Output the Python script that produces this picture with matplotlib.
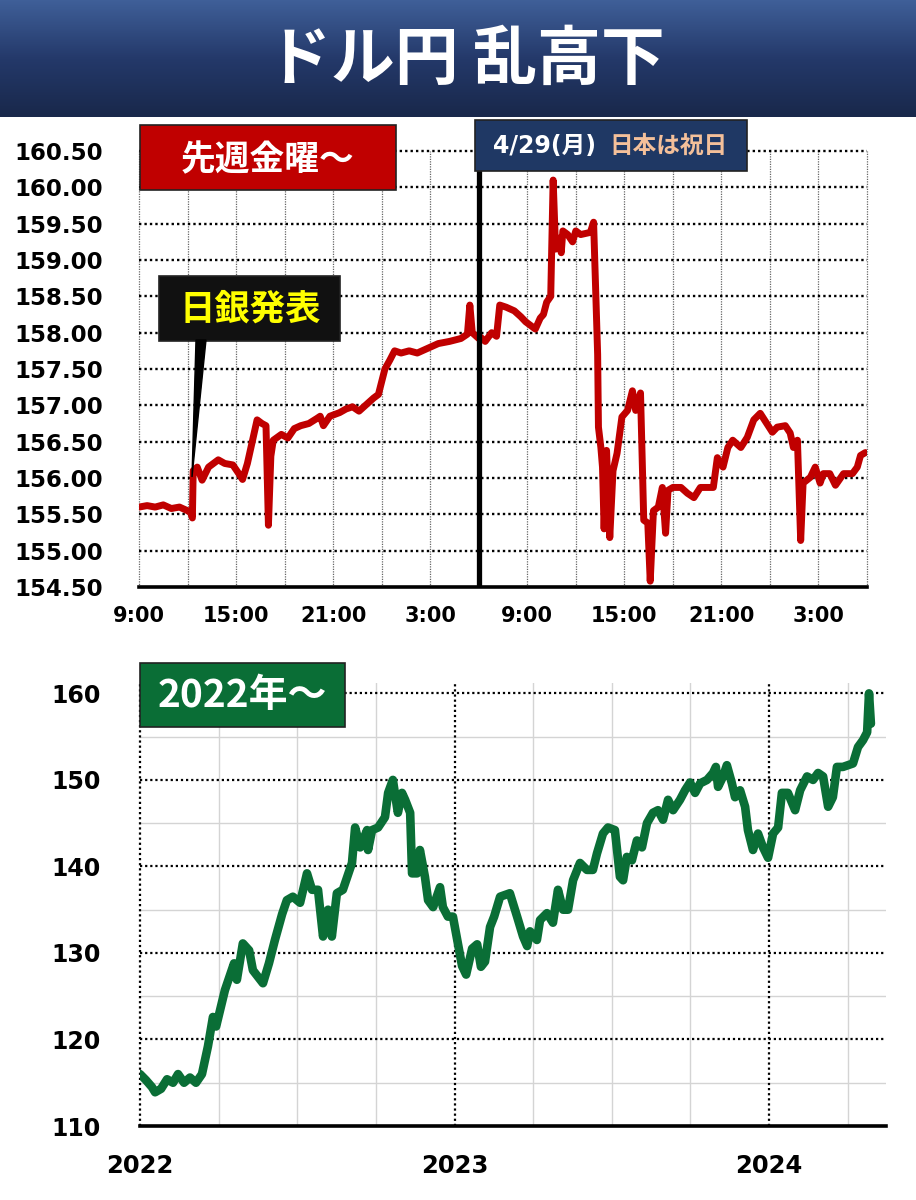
import numpy as np
import matplotlib.pyplot as plt
from matplotlib.patches import Rectangle, Polygon
from matplotlib.colors import LinearSegmentedColormap

plt.rcParams['font.family'] = ['DejaVu Sans', 'Noto Sans CJK JP']

W, H = 916, 1200

# --- last week: hours from Fri 9:00, weekend cut out at 21h (Sat 6:00 -> Mon 6:00)
week_hours = [
    0.0, 0.5, 1.0, 1.5, 2.0, 2.5, 3.0, 3.2, 3.3, 3.35,
    3.6, 3.9, 4.3, 4.9, 5.3, 5.8, 6.2, 6.4, 6.7, 7.0,
    7.3, 7.6, 7.85, 8.0, 8.15, 8.3, 8.8, 9.2, 9.6, 10.0,
    10.5, 11.0, 11.2, 11.4, 11.8, 12.4, 12.8, 13.2, 13.6, 14.0,
    14.5, 14.8, 15.2, 15.5, 15.8, 16.2, 16.7, 17.2, 17.8, 18.5,
    19.2, 19.9, 20.3, 20.45, 20.6, 21.0, 21.1, 21.4, 21.8, 22.1,
    22.3, 22.7, 23.2, 23.6, 23.9, 24.2, 24.5, 24.8, 25.0, 25.2,
    25.45, 25.6, 25.75, 25.95, 26.1, 26.2, 26.5, 26.8, 27.0, 27.3,
    27.9, 28.1, 28.35, 28.4, 28.55, 28.65, 28.75, 28.9, 29.1, 29.3,
    29.55, 29.85, 30.2, 30.5, 30.7, 31.0, 31.2, 31.45, 31.6, 31.8,
    32.1, 32.35, 32.55, 32.7, 33.0, 33.5, 33.9, 34.3, 34.7, 35.1,
    35.5, 35.75, 36.1, 36.4, 36.7, 37.2, 37.6, 38.0, 38.4, 38.8,
    39.15, 39.45, 39.95, 40.25, 40.45, 40.7, 40.9, 41.05, 41.5, 41.8,
    42.1, 42.3, 42.7, 43.05, 43.55, 44.1, 44.4, 44.6, 44.9,
]
week_usdjpy = [
    155.60, 155.62, 155.60, 155.63, 155.58, 155.60, 155.55, 155.52, 155.45, 156.10,
    156.15, 155.97, 156.15, 156.25, 156.20, 156.18, 156.05, 155.98, 156.20, 156.50,
    156.80, 156.75, 156.72, 155.35, 156.30, 156.52, 156.60, 156.55, 156.68, 156.72,
    156.75, 156.82, 156.85, 156.72, 156.85, 156.90, 156.95, 156.98, 156.92, 157.00,
    157.10, 157.15, 157.50, 157.62, 157.75, 157.72, 157.75, 157.72, 157.78, 157.85,
    157.88, 157.92, 157.98, 158.38, 158.00, 157.92, 157.94, 157.88, 158.00, 157.95,
    158.38, 158.35, 158.30, 158.22, 158.15, 158.10, 158.05, 158.20, 158.25, 158.42,
    158.50, 160.10, 159.15, 159.30, 159.10, 159.40, 159.35, 159.25, 159.40, 159.35,
    159.38, 159.52, 157.70, 156.70, 156.42, 156.15, 155.30, 156.38, 155.18, 156.10,
    156.34, 156.84, 156.93, 157.20, 156.93, 157.17, 155.42, 155.38, 154.58, 155.55,
    155.60, 155.87, 155.24, 155.83, 155.87, 155.87, 155.79, 155.73, 155.87, 155.87,
    155.87, 156.28, 156.15, 156.42, 156.52, 156.42, 156.56, 156.80, 156.89, 156.75,
    156.63, 156.70, 156.72, 156.62, 156.42, 156.52, 155.14, 155.93, 156.01, 156.15,
    155.93, 156.06, 156.06, 155.90, 156.06, 156.06, 156.15, 156.31, 156.35,
]
week_ticks = [0, 6, 12, 18, 24, 30, 36, 42]
week_labels = ['9:00', '15:00', '21:00', '3:00', '9:00', '15:00', '21:00', '3:00']
week_grid_x = [0, 3, 6, 9, 12, 15, 18, 21, 24, 27, 30, 33, 36, 39, 42, 45]
week_yticks = [154.5, 155.0, 155.5, 156.0, 156.5, 157.0, 157.5,
               158.0, 158.5, 159.0, 159.5, 160.0, 160.5]
holiday_hour = 21

# --- since 2022
long_years = [
    2022.000, 2022.019, 2022.038, 2022.048, 2022.067, 2022.086, 2022.105, 2022.121, 2022.140, 2022.159,
    2022.178, 2022.197, 2022.216, 2022.232, 2022.242, 2022.270, 2022.299, 2022.308, 2022.327, 2022.347,
    2022.359, 2022.391, 2022.410, 2022.429, 2022.452, 2022.467, 2022.486, 2022.509, 2022.531, 2022.547,
    2022.566, 2022.582, 2022.598, 2022.610, 2022.626, 2022.645, 2022.674, 2022.684, 2022.700, 2022.722,
    2022.725, 2022.738, 2022.757, 2022.779, 2022.789, 2022.804, 2022.820, 2022.833, 2022.843, 2022.859,
    2022.865, 2022.881, 2022.890, 2022.906, 2022.916, 2022.932, 2022.954, 2022.963, 2022.979, 2022.995,
    2023.024, 2023.037, 2023.056, 2023.072, 2023.084, 2023.097, 2023.113, 2023.126, 2023.145, 2023.176,
    2023.199, 2023.218, 2023.231, 2023.240, 2023.262, 2023.272, 2023.294, 2023.313, 2023.329, 2023.345,
    2023.361, 2023.377, 2023.399, 2023.421, 2023.440, 2023.453, 2023.472, 2023.488, 2023.510, 2023.526,
    2023.536, 2023.548, 2023.564, 2023.580, 2023.596, 2023.612, 2023.631, 2023.647, 2023.663, 2023.679,
    2023.695, 2023.717, 2023.733, 2023.749, 2023.765, 2023.781, 2023.803, 2023.822, 2023.831, 2023.838,
    2023.854, 2023.866, 2023.882, 2023.892, 2023.908, 2023.924, 2023.933, 2023.949, 2023.965, 2023.981,
    2023.997, 2024.013, 2024.029, 2024.041, 2024.060, 2024.083, 2024.099, 2024.121, 2024.140, 2024.156,
    2024.172, 2024.188, 2024.203, 2024.216, 2024.235, 2024.267, 2024.283, 2024.299, 2024.312, 2024.318,
    2024.324,
]
long_usdjpy = [
    116.0, 115.3, 114.5, 113.9, 114.3, 115.4, 115.0, 116.0, 115.0, 115.6,
    115.0, 116.0, 119.2, 122.6, 121.5, 125.7, 128.8, 126.9, 131.1, 130.3,
    128.0, 126.5, 128.8, 131.5, 134.5, 136.1, 136.5, 135.8, 139.2, 137.3,
    137.3, 131.9, 135.0, 131.9, 136.9, 137.3, 140.4, 144.5, 142.2, 144.2,
    141.9, 144.2, 144.5, 145.7, 148.5, 150.0, 146.2, 148.5, 147.7, 146.2,
    139.2, 139.2, 141.9, 138.8, 136.1, 135.3, 137.6, 135.3, 134.2, 134.2,
    128.5, 127.5, 130.5, 131.0, 128.4, 129.0, 133.0, 134.2, 136.5, 136.9,
    134.2, 131.9, 130.8, 132.5, 131.5, 133.8, 134.6, 133.5, 137.3, 135.0,
    135.0, 138.4, 140.4, 139.6, 139.6, 141.5, 143.8, 144.5, 144.2, 138.8,
    138.4, 141.1, 140.7, 143.0, 142.2, 145.0, 146.2, 146.5, 145.4, 147.7,
    146.5, 147.7, 148.8, 149.7, 148.5, 149.6, 150.0, 150.8, 151.5, 149.2,
    150.4, 151.7, 149.6, 148.0, 148.8, 146.9, 144.2, 141.9, 143.8, 142.2,
    141.0, 143.8, 144.5, 148.5, 148.5, 146.5, 148.8, 150.4, 150.0, 150.8,
    150.4, 146.9, 148.0, 151.5, 151.5, 151.9, 153.8, 154.6, 155.5, 160.0,
    156.5,
]
long_ticks = [2022, 2023, 2024]
long_labels = ['2022', '2023', '2024']
long_quarters = [2022.25, 2022.5, 2022.75, 2023.25, 2023.5, 2023.75, 2024.25]
long_yticks = [110, 120, 130, 140, 150, 160]
long_minor_y = [115, 125, 135, 145, 155]

RED = '#c00000'
GREEN = '#0a6e36'
NAVY = '#1f3864'
DOT = (0, (1, 1.3))


def px_rect(x0, y0, x1, y1, color, z=5):
    fig.add_artist(Rectangle((x0 / W, 1 - y1 / H), (x1 - x0) / W, (y1 - y0) / H,
                             transform=fig.transFigure, facecolor=color,
                             edgecolor='#222222', lw=1.2, zorder=z))


def px_text(x, y, s, **kw):
    fig.text(x / W, 1 - y / H, s, ha='center', va='center', zorder=7, **kw)


fig = plt.figure(figsize=(W / 100, H / 100), dpi=100)

# title bar
tax = fig.add_axes([0, 1 - 117 / H, 1, 117 / H])
cmap = LinearSegmentedColormap.from_list('bar', ['#3f5f98', '#24396a', '#19284b'])
tax.imshow(np.linspace(0, 1, 64).reshape(-1, 1), aspect='auto', cmap=cmap,
           extent=[0, 1, 0, 1])
tax.set_xlim(0, 1)
tax.set_ylim(0, 1)
tax.axis('off')
fig.text(466 / W, 1 - 60 / H, 'ドル円 乱高下', ha='center', va='center',
         color='white', fontsize=46, fontweight='bold', family='Noto Sans CJK JP')

# ---------------- top chart
ax1 = fig.add_axes([139 / W, 1 - 587 / H, (867 - 139) / W, (587 - 151) / H])
ax1.set_xlim(0, 45)
ax1.set_ylim(154.5, 160.5)
for h in week_grid_x:
    ax1.axvline(h, color='#666666', lw=0.9, ls=(0, (1, 1)), zorder=1, clip_on=False)
for v in week_yticks[1:]:
    ax1.axhline(v, color='black', lw=1.7, ls=DOT, zorder=1, clip_on=False)
ax1.plot(week_hours, week_usdjpy, color=RED, lw=5.0, solid_joinstyle='round',
         solid_capstyle='round', zorder=3)
ax1.axvline(holiday_hour, color='black', lw=3.8, zorder=4)
ax1.set_xticks(week_ticks)
ax1.set_xticklabels(week_labels)
ax1.set_yticks(week_yticks)
ax1.set_yticklabels([f'{v:.2f}' for v in week_yticks])
ax1.tick_params(axis='x', length=0, pad=14, labelsize=15)
ax1.tick_params(axis='y', length=0, pad=26, labelsize=16.5)
for lab in ax1.get_xticklabels() + ax1.get_yticklabels():
    lab.set_fontweight('bold')
for s in ['top', 'right', 'left']:
    ax1.spines[s].set_visible(False)
ax1.spines['bottom'].set_linewidth(2.6)

# annotations, top chart
px_rect(140, 125, 396, 190, RED)
px_text(268, 160, '先週金曜～', color='white', fontsize=25, fontweight='bold',
        family='Noto Sans CJK JP')
px_rect(475, 120, 747, 171, NAVY)
px_text(545, 146, '4/29(月)', color='white', fontsize=17, fontweight='bold')
px_text(668, 146, '日本は祝日', color='#f4c09a', fontsize=17, fontweight='bold',
        family='Noto Sans CJK JP')
px_rect(159, 276, 340, 341, '#111111')
px_text(250, 309, '日銀発表', color='#ffff00', fontsize=25.5, fontweight='bold',
        family='Noto Sans CJK JP')
fig.add_artist(Polygon([(196 / W, 1 - 340 / H), (206 / W, 1 - 340 / H), (192 / W, 1 - 477 / H)],
                       closed=True, transform=fig.transFigure, facecolor='black',
                       edgecolor='black', zorder=6))

# ---------------- bottom chart
ax2 = fig.add_axes([140 / W, 1 - 1126 / H, (886 - 140) / W, (1126 - 683) / H])
ax2.set_xlim(2022, 2024.372)
ax2.set_ylim(110, 161.2)
for q in long_quarters:
    ax2.axvline(q, color='#d4d4d4', lw=1.0, zorder=1)
for v in long_minor_y:
    ax2.axhline(v, color='#d4d4d4', lw=1.0, zorder=1)
for v in long_yticks[1:]:
    ax2.axhline(v, color='black', lw=1.6, ls=DOT, zorder=1)
for t in long_ticks:
    ax2.axvline(t, color='black', lw=1.6, ls=DOT, zorder=1, clip_on=False)
ax2.plot(long_years, long_usdjpy, color=GREEN, lw=6.2, solid_joinstyle='round',
         solid_capstyle='round', zorder=3)
ax2.set_xticks(long_ticks)
ax2.set_xticklabels(long_labels)
ax2.set_yticks(long_yticks)
ax2.tick_params(axis='x', length=0, pad=20, labelsize=17.5)
ax2.tick_params(axis='y', length=0, pad=28, labelsize=17)
for lab in ax2.get_xticklabels() + ax2.get_yticklabels():
    lab.set_fontweight('bold')
for s in ['top', 'right', 'left']:
    ax2.spines[s].set_visible(False)
ax2.spines['bottom'].set_linewidth(2.6)

px_rect(140, 663, 345, 727, '#0a6e36')
px_text(242, 695, '2022年～', color='white', fontsize=28, fontweight='bold',
        family='Noto Sans CJK JP')

fig.savefig('out.png', dpi=100, facecolor='white')
